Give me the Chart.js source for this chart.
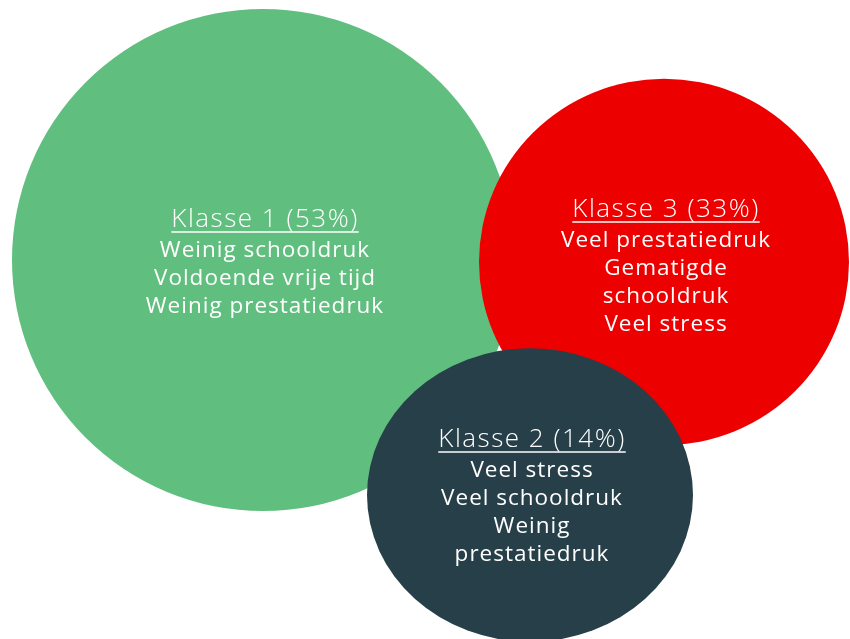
<!DOCTYPE html>
<html lang="nl">
  <head>
    <meta charset="UTF-8" />
    <title>Klassen</title>
    <script src="https://cdn.jsdelivr.net/npm/chart.js"></script>
    <style>
      html, body { margin: 0; padding: 0; background: #fff; }
      #wrap { width: 850px; height: 639px; position: relative; }
    </style>
  </head>
  <body>
    <div id="wrap"><canvas id="bubbles"></canvas></div>

    <script>
      // data (x/y in canvas units, r in px)
      const klassen = ["Klasse 1 (53%)", "Klasse 3 (33%)", "Klasse 2 (14%)"];
      const percentages = [53, 33, 14];
      const bubbleX = [263, 664, 530];
      const bubbleY = [260, 262, 495];
      const bubbleR = [251, 185, 163];
      const kenmerken = [
        ["Weinig schooldruk", "Voldoende vrije tijd", "Weinig prestatiedruk"],
        ["Veel prestatiedruk", "Gematigde", "schooldruk", "Veel stress"],
        ["Veel stress", "Veel schooldruk", "Weinig", "prestatiedruk"],
      ];

      // styling
      const colors = ["#60bf7f", "#ec0000", "#263f48"];
      const squashY = [1, 0.99, 0.9]; // the dark one is drawn a bit oval
      const titleOffset = [-33, -45, -48];

      // squash a dataset vertically around its point
      const ovalPlugin = {
        id: "oval",
        beforeDatasetDraw(chart, args) {
          const pt = chart.getDatasetMeta(args.index).data[0];
          const ctx = chart.ctx;
          ctx.save();
          ctx.translate(pt.x, pt.y);
          ctx.scale(1, squashY[args.index]);
          ctx.translate(-pt.x, -pt.y);
        },
        afterDatasetDraw(chart) {
          chart.ctx.restore();
        },
      };

      const labelPlugin = {
        id: "bubbleLabels",
        afterDatasetsDraw(chart) {
          const ctx = chart.ctx;
          ctx.save();
          ctx.fillStyle = "#ffffff";
          ctx.strokeStyle = "#ffffff";
          ctx.textAlign = "left";
          ctx.textBaseline = "alphabetic";
          const centered = (txt, x, y) => {
            const w = ctx.measureText(txt).width;
            ctx.fillText(txt, x - w / 2, y);
            return w;
          };
          klassen.forEach((k, i) => {
            const pt = chart.getDatasetMeta(i).data[0];
            const x = pt.x + 2;
            let y = pt.y + titleOffset[i];
            ctx.font = "300 26px 'Open Sans'";
            ctx.letterSpacing = "1.5px";
            const w = centered(k, x, y);
            ctx.lineWidth = 1.5;
            ctx.beginPath();
            ctx.moveTo(x - w / 2, y + 5);
            ctx.lineTo(x + w / 2, y + 5);
            ctx.stroke();
            ctx.font = "400 22.5px 'Open Sans'";
            ctx.letterSpacing = "1px";
            y += 29.5;
            kenmerken[i].forEach((line) => {
              centered(line, x, y);
              y += 28.3;
            });
          });
          ctx.restore();
        },
      };

      new Chart(document.getElementById("bubbles"), {
        type: "bubble",
        data: {
          datasets: klassen.map((k, i) => ({
            label: k,
            data: [{ x: bubbleX[i], y: bubbleY[i], r: bubbleR[i], p: percentages[i] }],
            backgroundColor: colors[i],
            borderWidth: 0,
            hoverRadius: 0,
            hoverBorderWidth: 0,
            clip: false,
            order: klassen.length - i, // later ones on top
          })),
        },
        options: {
          responsive: true,
          maintainAspectRatio: false,
          animation: false,
          events: [],
          layout: { padding: 0, autoPadding: false },
          plugins: {
            legend: { display: false },
            tooltip: { enabled: false },
          },
          scales: {
            x: { type: "linear", min: 0, max: 850, display: false },
            y: { type: "linear", min: 0, max: 639, reverse: true, display: false },
          },
        },
        plugins: [ovalPlugin, labelPlugin],
      });
    </script>
  </body>
</html>
